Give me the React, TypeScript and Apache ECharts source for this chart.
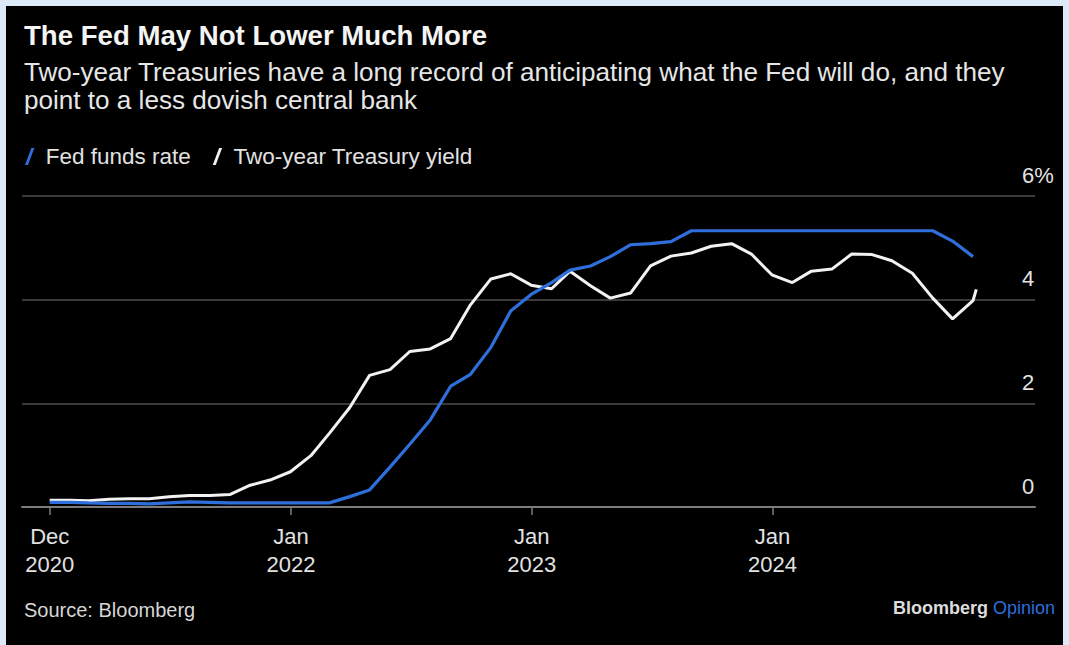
import React, { useEffect, useRef } from "react";
import * as echarts from "echarts";

// Monthly observations (monthly averages), plotted at month end
const months = [
  "2020-12",
  "2021-01", "2021-02", "2021-03", "2021-04", "2021-05", "2021-06",
  "2021-07", "2021-08", "2021-09", "2021-10", "2021-11", "2021-12",
  "2022-01", "2022-02", "2022-03", "2022-04", "2022-05", "2022-06",
  "2022-07", "2022-08", "2022-09", "2022-10", "2022-11", "2022-12",
  "2023-01", "2023-02", "2023-03", "2023-04", "2023-05", "2023-06",
  "2023-07", "2023-08", "2023-09", "2023-10", "2023-11", "2023-12",
  "2024-01", "2024-02", "2024-03", "2024-04", "2024-05", "2024-06",
  "2024-07", "2024-08", "2024-09", "2024-10",
];

const fedFundsRate = [
  0.09,
  0.09, 0.08, 0.07, 0.07, 0.06, 0.08,
  0.10, 0.09, 0.08, 0.08, 0.08, 0.08,
  0.08, 0.08, 0.20, 0.33, 0.77, 1.21,
  1.68, 2.33, 2.56, 3.08, 3.78, 4.10,
  4.33, 4.57, 4.65, 4.83, 5.06, 5.08,
  5.12, 5.33, 5.33, 5.33, 5.33, 5.33,
  5.33, 5.33, 5.33, 5.33, 5.33, 5.33,
  5.33, 5.33, 5.13, 4.83,
];

const twoYearYield = [
  0.13,
  0.13, 0.12, 0.15, 0.16, 0.16, 0.20,
  0.22, 0.22, 0.24, 0.42, 0.52, 0.68,
  0.99, 1.42, 1.92, 2.54, 2.65, 3.00,
  3.05, 3.25, 3.90, 4.40, 4.50, 4.28,
  4.21, 4.55, 4.27, 4.03, 4.13, 4.65,
  4.84, 4.90, 5.03, 5.08, 4.88, 4.48,
  4.33, 4.55, 4.59, 4.88, 4.87, 4.75,
  4.51, 4.03, 3.63, 3.98,
];

// Latest reading of the two-year yield
const latestDate = "2024-11-05";
const latestTwoYear = 4.2;

const xTickDates = ["2020-12-31", "2022-01-01", "2023-01-01", "2024-01-01"];
const xTickLabels = ["Dec\n2020", "Jan\n2022", "Jan\n2023", "Jan\n2024"];
const xMinDate = "2020-11-19";
const xMaxDate = "2025-02-02";

const yMin = 0;
const yMax = 6;
const yStep = 2;

const FONT = "'Liberation Sans', Arial, Helvetica, sans-serif";

function toTs(s: string): number {
  const parts = s.split("-").map(Number);
  if (parts.length === 3) return Date.UTC(parts[0], parts[1] - 1, parts[2]);
  // month-end
  return Date.UTC(parts[0], parts[1], 0);
}

export default function App() {
  const ref = useRef<HTMLDivElement>(null);

  useEffect(() => {
    if (!ref.current) return;
    const chart = echarts.init(ref.current, undefined, { renderer: "svg" });

    const tickTs = xTickDates.map(toTs);
    const fedData = months.map((m, i) => [toTs(m), fedFundsRate[i]]);
    const twoData = months.map((m, i) => [toTs(m), twoYearYield[i]]);
    twoData.push([toTs(latestDate), latestTwoYear]);

    const option: any = {
      animation: false,
      backgroundColor: "#000000",
      textStyle: { fontFamily: FONT },
      grid: { left: 16, right: 28, top: 190, bottom: 138, containLabel: false },
      legend: {
        data: ["Fed funds rate", "Two-year Treasury yield"],
        left: 14,
        top: 134,
        icon: "path://M0,20 L3.5,20 L11,0 L7.5,0 Z",
        itemWidth: 12,
        itemHeight: 17,
        itemGap: 22,
        textStyle: { color: "#e2e2e2", fontSize: 22.5, fontFamily: FONT, padding: [0, 0, 0, 5] },
      },
      xAxis: {
        type: "value",
        min: toTs(xMinDate),
        max: toTs(xMaxDate),
        splitLine: { show: false },
        axisLine: { show: true, lineStyle: { color: "#7c7c7c", width: 2 } },
        axisTick: {
          show: true,
          customValues: tickTs,
          length: 8,
          lineStyle: { color: "#7c7c7c", width: 1.5 },
        },
        axisLabel: {
          customValues: tickTs,
          margin: 15,
          color: "#e2e2e2",
          fontSize: 22,
          lineHeight: 28,
          fontFamily: FONT,
          formatter: (v: number) => {
            const i = tickTs.findIndex((t) => Math.abs(t - v) < 86400000);
            return i >= 0 ? xTickLabels[i] : "";
          },
        },
      },
      yAxis: {
        type: "value",
        position: "right",
        min: yMin,
        max: yMax,
        interval: yStep,
        axisLine: { show: false },
        axisTick: { show: false },
        splitLine: { show: true, lineStyle: { color: "#4e4e4e", width: 1.5 } },
        axisLabel: {
          margin: -13,
          align: "left",
          verticalAlign: "bottom",
          lineHeight: 42,
          color: "#e2e2e2",
          fontSize: 22,
          fontFamily: FONT,
          formatter: (v: number) => (v === yMax ? v + "%" : String(v)),
        },
      },
      series: [
        {
          name: "Two-year Treasury yield",
          type: "line",
          data: twoData,
          showSymbol: false,
          color: "#f2f2f2",
          lineStyle: { color: "#f2f2f2", width: 3 },
          z: 2,
        },
        {
          name: "Fed funds rate",
          type: "line",
          data: fedData,
          showSymbol: false,
          color: "#2f6fdb",
          lineStyle: { color: "#2f6fdb", width: 3.2 },
          z: 3,
        },
      ],
      graphic: [
        {
          type: "text",
          x: 18,
          y: 29,
          style: {
            text: "The Fed May Not Lower Much More",
            fill: "#f4f4f4",
            fontSize: 27.6,
            fontWeight: "bold",
            fontFamily: FONT,
            align: "left",
            verticalAlign: "middle",
          },
        },
        {
          type: "text",
          x: 18,
          y: 66,
          style: {
            text: "Two-year Treasuries have a long record of anticipating what the Fed will do, and they",
            fill: "#e6e6e6",
            fontSize: 26.1,
            fontFamily: FONT,
            align: "left",
            verticalAlign: "middle",
          },
        },
        {
          type: "text",
          x: 18,
          y: 94,
          style: {
            text: "point to a less dovish central bank",
            fill: "#e6e6e6",
            fontSize: 26.1,
            fontFamily: FONT,
            align: "left",
            verticalAlign: "middle",
          },
        },
        {
          type: "text",
          x: 18,
          y: 604,
          style: {
            text: "Source: Bloomberg",
            fill: "#d6d6d6",
            fontSize: 20,
            fontFamily: FONT,
            align: "left",
            verticalAlign: "middle",
          },
        },
        {
          type: "text",
          x: 1049,
          y: 602,
          style: {
            text: "{a|Bloomberg} {b|Opinion}",
            align: "right",
            verticalAlign: "middle",
            fontSize: 18,
            fontFamily: FONT,
            rich: {
              a: { fill: "#dcdcdc", fontSize: 18, fontWeight: "bold", fontFamily: FONT },
              b: { fill: "#2f6fdb", fontSize: 18, fontFamily: FONT },
            },
          },
        },
      ],
    };

    chart.setOption(option);
    return () => chart.dispose();
  }, []);

  return (
    <div
      style={{
        position: "absolute",
        left: 0,
        top: 0,
        width: 1069,
        height: 645,
        background: "#dde9f6",
        overflow: "hidden",
      }}
    >
      <div
        ref={ref}
        style={{ position: "absolute", left: 6, top: 6, width: 1057, height: 639 }}
      />
    </div>
  );
}
